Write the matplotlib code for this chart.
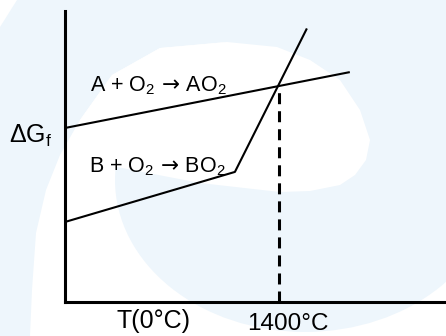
import matplotlib.pyplot as plt
from matplotlib.patches import Polygon, Ellipse

plt.rcParams['font.family'] = ['Liberation Sans', 'DejaVu Sans']
plt.rcParams['mathtext.fontset'] = 'custom'
plt.rcParams['mathtext.rm'] = 'Liberation Sans'
plt.rcParams['mathtext.it'] = 'Liberation Sans:italic'
plt.rcParams['mathtext.bf'] = 'Liberation Sans:bold'
plt.rcParams['mathtext.sf'] = 'DejaVu Sans'

# Ellingham-style sketch: free energy of formation vs temperature
temp_a = [0, 1864]
dg_a = [59.8, 79.0]
temp_b = [0, 1112, 1583]
dg_b = [27.5, 44.7, 94.0]
t_cross = 1400
dg_cross = 74.2

label_a = r'A + O$_2\,\mathsf{\rightarrow}\,$AO$_2$'
label_b = r'B + O$_2\,\mathsf{\rightarrow}\,$BO$_2$'
ylabel = r'ΔG$_\mathrm{f}$'
xlabel = 'T(0°C)'
cross_label = '1400°C'

W, H = 446, 336
fig = plt.figure(figsize=(W / 100, H / 100), dpi=100)
fig.patch.set_facecolor('white')

# faint watermark in the background (pixel outlines -> figure fraction)
wm = '#eef6fc'


def px(pts):
    return [(x / W, 1 - y / H) for x, y in pts]


fig.add_artist(Polygon(px([(0, 27), (17, 0), (W, 0), (W, H), (0, H)]),
                       closed=True, fc=wm, ec='none', zorder=-5,
                       transform=fig.transFigure))
fig.add_artist(Polygon(px([(30, 336), (32, 290), (36, 233), (46, 190), (60, 155),
                           (80, 120), (112, 75), (160, 48), (227, 42), (277, 47),
                           (310, 60), (340, 80), (360, 110), (370, 140), (400, 200),
                           (446, 250), (446, 336)]),
                       closed=True, fc='white', ec='none', zorder=-4,
                       transform=fig.transFigure))
fig.add_artist(Ellipse((305 / W, 1 - 180 / H), 380 / W, 304 / H, fc=wm, ec='none',
                       zorder=-3, transform=fig.transFigure))
fig.add_artist(Polygon(px([(117, 167), (200, 183), (280, 192), (310, 191), (340, 185),
                           (355, 175), (366, 160), (370, 140), (360, 110), (340, 80),
                           (310, 60), (277, 47), (227, 42), (160, 48), (112, 75),
                           (80, 120), (100, 160)]),
                       closed=True, fc='white', ec='none', zorder=-2,
                       transform=fig.transFigure))

ax = fig.add_axes([65 / W, 34 / H, 382 / W, 291 / H])
ax.set_facecolor('none')
ax.set_xlim(0, 2500)
ax.set_ylim(0, 100)

for side in ['top', 'right']:
    ax.spines[side].set_visible(False)
for side in ['left', 'bottom']:
    ax.spines[side].set_linewidth(2.2)
    ax.spines[side].set_color('black')
ax.set_xticks([])
ax.set_yticks([])

ax.plot(temp_a, dg_a, color='black', lw=1.5, solid_capstyle='butt')
ax.plot(temp_b, dg_b, color='black', lw=1.5, solid_capstyle='butt')
ax.plot([t_cross, t_cross], [0, dg_cross], color='black', lw=2.2,
        linestyle=(0, (3.6, 2.3)))

ax.text(164, 72.5, label_a, fontsize=15.5, va='baseline', ha='left')
ax.text(157, 44.7, label_b, fontsize=15.5, va='baseline', ha='left')
ax.text(-367, 54.6, ylabel, fontsize=18, va='baseline', ha='left', clip_on=False)
ax.text(340, -8.9, xlabel, fontsize=18, va='baseline', ha='left', clip_on=False)
ax.text(1191, -9.6, cross_label, fontsize=17.5, va='baseline', ha='left', clip_on=False)

fig.savefig('out.png', dpi=100)
